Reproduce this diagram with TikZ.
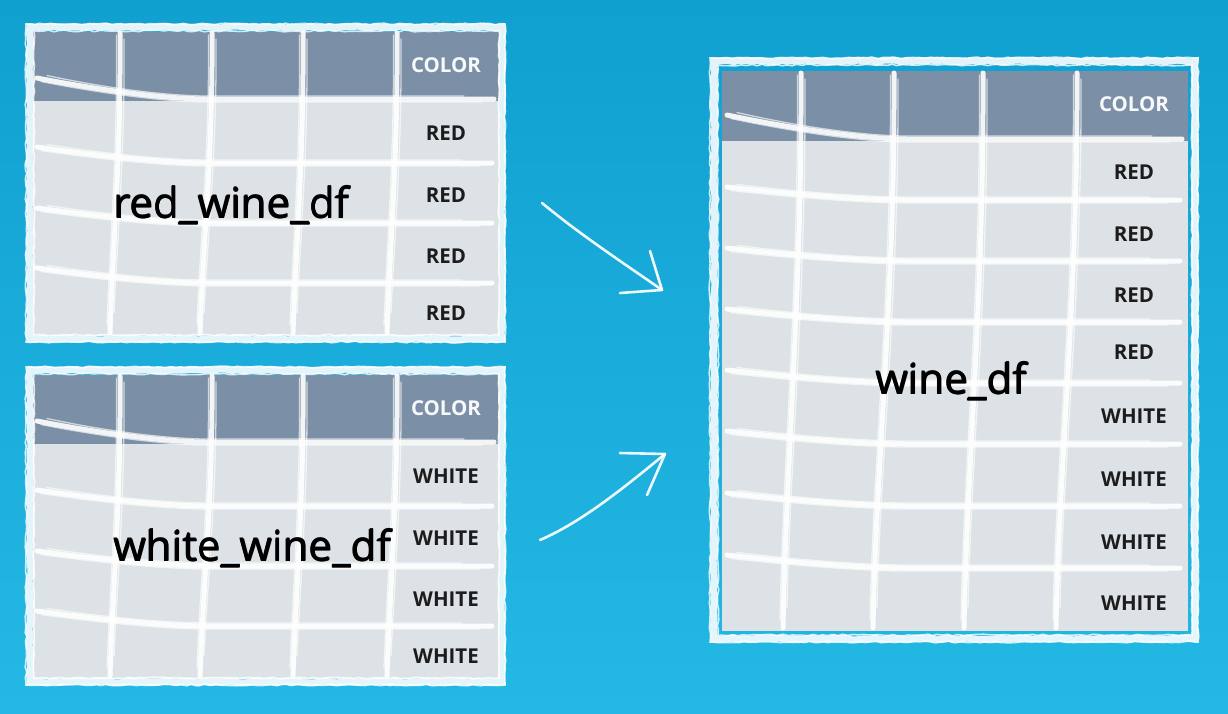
\documentclass[tikz,border=0pt]{standalone}
\usepackage{fontspec}
\setmainfont{Open Sans}
\usetikzlibrary{decorations.pathmorphing}
\definecolor{bgtop}{RGB}{16,160,208}
\definecolor{bgbot}{RGB}{36,184,228}
\definecolor{hdr}{RGB}{123,144,166}
\definecolor{cell}{RGB}{221,226,231}
\definecolor{ink}{RGB}{28,28,28}
\tikzset{
  brush/.style={white, line width=5pt, line cap=round, opacity=0.9},
  brushthin/.style={white, line width=1.3pt, line cap=round, opacity=0.65},
  framethick/.style={white, line width=7pt, opacity=0.88, decorate, decoration={random steps, segment length=6pt, amplitude=1pt}},
  framethin/.style={white, line width=1.6pt, opacity=0.8, decorate, decoration={random steps, segment length=5pt, amplitude=0.8pt}},
  cellt/.style={font=\bfseries\fontsize{20.5}{24}\selectfont, text=ink},
  hdrt/.style={font=\bfseries\fontsize{20.5}{24}\selectfont, text=white!95!hdr},
  biglbl/.style={font=\fontsize{42}{48}\selectfont, text=black, inner sep=0pt},
  arrowline/.style={white, line width=2.6pt, line cap=round, line join=round, opacity=0.92},
}
% heavier label: the same text set three times, very slightly shifted
\newcommand\heavylabel[3]{% name, position, text
  \node[biglbl, anchor=base west] at ([xshift=0.8pt]#2) {#3};
  \node[biglbl, anchor=base west] at ([xshift=0.4pt,yshift=0.4pt]#2) {#3};
  \node[biglbl, anchor=base west] (#1) at (#2) {#3};
}
% horizontal brush line: xl, xr, y, drop, bend length
\newcommand\hbrush[5]{%
  \draw[brush] (#1,#3-#4) .. controls (#1+#5*0.45,#3-#4*0.3) and (#1+#5*0.8,#3) .. (#1+#5,#3) -- (#2,#3);
  \draw[brushthin] (#1+4,#3-#4+3.5) .. controls (#1+#5*0.45,#3-#4*0.3+3) and (#1+#5*0.8,#3+3) .. (#1+#5,#3+3) -- (#2-12,#3+3);
  \draw[brushthin] (#1+10,#3-#4-2.5) .. controls (#1+#5*0.45,#3-#4*0.3-3) and (#1+#5*0.8,#3-3) .. (#1+#5,#3-3) -- (#2-30,#3-3);
}
% vertical brush line: xt, yt, xb, yb
\newcommand\vbrush[4]{%
  \draw[brush] (#1,#2) .. controls (#1+1,#2*0.6+#4*0.4) and (#3+3,#2*0.3+#4*0.7) .. (#3,#4);
  \draw[brushthin] (#1+4,#2+6) .. controls (#1+5,#2*0.6+#4*0.4) and (#3+7,#2*0.3+#4*0.7) .. (#3+4,#4-20);
  \draw[brushthin] (#1-3.5,#2+2) .. controls (#1-2.5,#2*0.6+#4*0.4) and (#3,#2*0.3+#4*0.7) .. (#3-3,#4-8);
}
% rough frame: x1 y1 x2 y2
\newcommand\rframe[4]{%
  \draw[framethick] (#1,#2) rectangle (#3,#4);
  \draw[framethin] (#1-4,#2-3) rectangle (#3+3,#4+3);
  \draw[framethin] (#1+4,#2+4) rectangle (#3-3,#4-4);
}
\begin{document}
\begin{tikzpicture}[x=1pt,y=-1pt]
\useasboundingbox (0,0) rectangle (1228,713);
\fill[top color=bgtop, bottom color=bgbot] (0,0) rectangle (1228,713);

% ---------- table 1: red_wine_df ----------
\fill[cell] (33,32) rectangle (499,336);
\fill[hdr] (33,32) rectangle (499,101);
\vbrush{120}{33}{110}{333}
\vbrush{212}{33}{200}{333}
\vbrush{303}{33}{293}{333}
\vbrush{397}{33}{387}{333}
\hbrush{37}{494}{99}{21}{170}
\hbrush{37}{492}{163}{16}{170}
\hbrush{37}{492}{223}{15}{170}
\hbrush{37}{492}{283}{15}{170}
\rframe{30}{27}{502}{339}
\node[hdrt] (t1h) at (446,65) {COLOR};
\node[cellt] (t1r1) at (446,133) {RED};
\node[cellt] (t1r2) at (446,195) {RED};
\node[cellt] (t1r3) at (446,256) {RED};
\node[cellt] (t1r4) at (446,313) {RED};
\heavylabel{red}{113,218}{red\_wine\_df}

% ---------- table 2: white_wine_df ----------
\begin{scope}[yshift=-343pt]
\fill[cell] (33,32) rectangle (499,336);
\fill[hdr] (33,32) rectangle (499,101);
\vbrush{120}{33}{110}{333}
\vbrush{212}{33}{200}{333}
\vbrush{303}{33}{293}{333}
\vbrush{397}{33}{387}{333}
\hbrush{37}{494}{99}{21}{170}
\hbrush{37}{492}{163}{16}{170}
\hbrush{37}{492}{223}{15}{170}
\hbrush{37}{492}{283}{15}{170}
\rframe{30}{27}{502}{339}
\node[hdrt] (t2h) at (446,65) {COLOR};
\node[cellt] (t2r1) at (446,133) {WHITE};
\node[cellt] (t2r2) at (446,195) {WHITE};
\node[cellt] (t2r3) at (446,256) {WHITE};
\node[cellt] (t2r4) at (446,313) {WHITE};
\heavylabel{white}{113,218}{white\_wine\_df}
\end{scope}

% ---------- table 3: wine_df ----------
\fill[cell] (722,71) rectangle (1188,631);
\fill[hdr] (722,71) rectangle (1188,141);
\vbrush{801}{73}{783}{628}
\vbrush{894}{73}{873}{628}
\vbrush{983}{73}{964}{628}
\vbrush{1077}{73}{1056}{628}
\hbrush{727}{1182}{139}{24}{180}
\hbrush{727}{1180}{200}{13}{180}
\hbrush{727}{1180}{261}{13}{180}
\hbrush{727}{1180}{322}{13}{180}
\hbrush{727}{1180}{383}{13}{180}
\hbrush{727}{1180}{444}{13}{180}
\hbrush{727}{1180}{506}{13}{180}
\hbrush{727}{1180}{568}{13}{180}
\rframe{714}{61}{1195}{639}
\node[hdrt] (t3h) at (1134,104) {COLOR};
\node[cellt] (t3r1) at (1134,172) {RED};
\node[cellt] (t3r2) at (1134,234) {RED};
\node[cellt] (t3r3) at (1134,295) {RED};
\node[cellt] (t3r4) at (1134,352) {RED};
\node[cellt] (t3r5) at (1134,416) {WHITE};
\node[cellt] (t3r6) at (1134,479) {WHITE};
\node[cellt] (t3r7) at (1134,542) {WHITE};
\node[cellt] (t3r8) at (1134,603) {WHITE};
\heavylabel{wine}{875,394}{wine\_df}

% ---------- arrows ----------
\coordinate (a1s) at (542,203);
\coordinate (a1e) at (662,290);
\coordinate (a2s) at (540,540);
\coordinate (a2e) at (665,454);
\draw[arrowline] (a1s) .. controls (582,236) and (622,262) .. (a1e);
\draw[arrowline] (650,251) -- (a1e) -- (620,293);
\draw[arrowline] (a2s) .. controls (582,522) and (626,486) .. (a2e);
\draw[arrowline] (620,453) -- (a2e) -- (647,495);
\end{tikzpicture}
\end{document}
